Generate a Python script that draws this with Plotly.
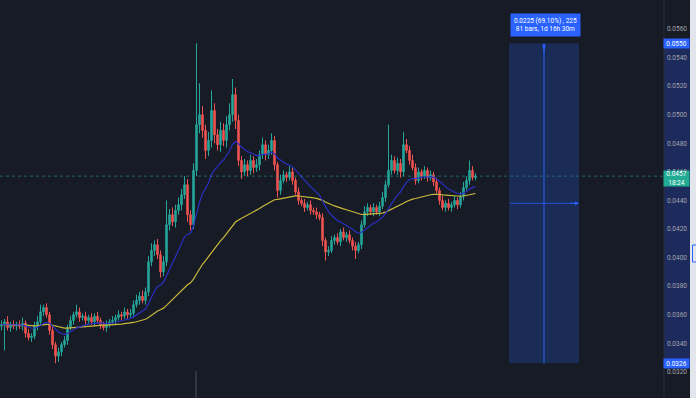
import plotly.graph_objects as go
import pandas as pd

# ---------------- data ----------------
first_open = 0.0352
close = [
    0.0353, 0.0355, 0.0351, 0.0353, 0.0352, 0.0353, 0.0352, 0.0354, 0.0347, 0.0344,
    0.0345, 0.0352, 0.0355, 0.0362, 0.0365, 0.0360, 0.0349, 0.0339, 0.0331, 0.0334,
    0.0339, 0.0342, 0.0351, 0.0356, 0.0360, 0.0362, 0.0358, 0.0359, 0.0356, 0.0358,
    0.0355, 0.0359, 0.0356, 0.0353, 0.0351, 0.0353, 0.0355, 0.0356, 0.0358, 0.0360,
    0.0359, 0.0362, 0.0360, 0.0361, 0.0367, 0.0370, 0.0373, 0.0370, 0.0376, 0.0397,
    0.0405, 0.0409, 0.0402, 0.0390, 0.0397, 0.0423, 0.0430, 0.0425, 0.0433, 0.0437,
    0.0444, 0.0451, 0.0430, 0.0423, 0.0461, 0.0493, 0.0500, 0.0489, 0.0475, 0.0482,
    0.0503, 0.0486, 0.0479, 0.0489, 0.0482, 0.0493, 0.0500, 0.0514, 0.0496, 0.0468,
    0.0460, 0.0465, 0.0461, 0.0468, 0.0463, 0.0465, 0.0472, 0.0479, 0.0472, 0.0475,
    0.0482, 0.0465, 0.0447, 0.0454, 0.0458, 0.0456, 0.0460, 0.0454, 0.0446, 0.0440,
    0.0438, 0.0435, 0.0437, 0.0433, 0.0432, 0.0430, 0.0428, 0.0412, 0.0404, 0.0405,
    0.0412, 0.0414, 0.0411, 0.0418, 0.0414, 0.0416, 0.0412, 0.0408, 0.0405, 0.0409,
    0.0423, 0.0432, 0.0435, 0.0432, 0.0435, 0.0432, 0.0436, 0.0442, 0.0451, 0.0461,
    0.0468, 0.0461, 0.0466, 0.0460, 0.0479, 0.0475, 0.0468, 0.0463, 0.0454, 0.0460,
    0.0457, 0.0461, 0.0456, 0.0458, 0.0453, 0.0447, 0.0440, 0.0435, 0.0438, 0.0435,
    0.0437, 0.0440, 0.0437, 0.0443, 0.0449, 0.0454, 0.0461, 0.0456, 0.0457,
]
up_wick = [
    0.0003, 0.0002, 0.0004, 0.0002, 0.0003, 0.0002, 0.0003, 0.0004, 0.0002, 0.0003,
    0.0002, 0.0003, 0.0004, 0.0005, 0.0002, 0.0003, 0.0002, 0.0003, 0.0002, 0.0003,
    0.0002, 0.0003, 0.0002, 0.0003, 0.0002, 0.0005, 0.0003, 0.0002, 0.0003, 0.0002,
    0.0003, 0.0002, 0.0003, 0.0002, 0.0002, 0.0003, 0.0002, 0.0003, 0.0002, 0.0003,
    0.0002, 0.0003, 0.0002, 0.0003, 0.0003, 0.0004, 0.0003, 0.0004, 0.0003, 0.0004,
    0.0005, 0.0003, 0.0004, 0.0003, 0.0004, 0.0017, 0.0004, 0.0005, 0.0004, 0.0005,
    0.0004, 0.0006, 0.0004, 0.0003, 0.0005, 0.0057, 0.0022, 0.0006, 0.0004, 0.0006,
    0.0014, 0.0005, 0.0004, 0.0006, 0.0005, 0.0006, 0.0008, 0.0011, 0.0005, 0.0004,
    0.0003, 0.0004, 0.0003, 0.0004, 0.0003, 0.0004, 0.0003, 0.0005, 0.0003, 0.0004,
    0.0005, 0.0003, 0.0002, 0.0004, 0.0003, 0.0002, 0.0004, 0.0003, 0.0002, 0.0003,
    0.0002, 0.0003, 0.0002, 0.0003, 0.0002, 0.0003, 0.0002, 0.0003, 0.0002, 0.0003,
    0.0003, 0.0002, 0.0003, 0.0002, 0.0003, 0.0002, 0.0003, 0.0002, 0.0003, 0.0002,
    0.0003, 0.0004, 0.0003, 0.0002, 0.0003, 0.0002, 0.0003, 0.0004, 0.0003, 0.0032,
    0.0004, 0.0003, 0.0004, 0.0003, 0.0009, 0.0004, 0.0003, 0.0004, 0.0003, 0.0003,
    0.0002, 0.0003, 0.0002, 0.0003, 0.0002, 0.0003, 0.0002, 0.0003, 0.0002, 0.0003,
    0.0002, 0.0003, 0.0002, 0.0003, 0.0004, 0.0003, 0.0007, 0.0003, 0.0002,
]
down_wick = [
    0.0003, 0.0018, 0.0002, 0.0003, 0.0002, 0.0003, 0.0002, 0.0003, 0.0003, 0.0002,
    0.0003, 0.0002, 0.0003, 0.0002, 0.0003, 0.0002, 0.0003, 0.0003, 0.0005, 0.0004,
    0.0003, 0.0002, 0.0003, 0.0002, 0.0003, 0.0002, 0.0003, 0.0002, 0.0003, 0.0002,
    0.0002, 0.0003, 0.0002, 0.0003, 0.0002, 0.0003, 0.0002, 0.0002, 0.0003, 0.0002,
    0.0003, 0.0002, 0.0003, 0.0002, 0.0003, 0.0002, 0.0003, 0.0002, 0.0003, 0.0003,
    0.0003, 0.0004, 0.0003, 0.0004, 0.0003, 0.0003, 0.0004, 0.0003, 0.0004, 0.0003,
    0.0004, 0.0003, 0.0005, 0.0004, 0.0003, 0.0004, 0.0006, 0.0005, 0.0006, 0.0004,
    0.0005, 0.0006, 0.0004, 0.0005, 0.0004, 0.0005, 0.0004, 0.0005, 0.0006, 0.0004,
    0.0005, 0.0003, 0.0004, 0.0003, 0.0004, 0.0003, 0.0004, 0.0003, 0.0004, 0.0003,
    0.0003, 0.0004, 0.0005, 0.0003, 0.0002, 0.0003, 0.0002, 0.0003, 0.0002, 0.0003,
    0.0002, 0.0003, 0.0002, 0.0003, 0.0002, 0.0003, 0.0002, 0.0004, 0.0006, 0.0003,
    0.0002, 0.0003, 0.0002, 0.0003, 0.0002, 0.0003, 0.0002, 0.0003, 0.0006, 0.0002,
    0.0003, 0.0002, 0.0003, 0.0002, 0.0003, 0.0002, 0.0003, 0.0002, 0.0003, 0.0002,
    0.0003, 0.0002, 0.0003, 0.0004, 0.0003, 0.0002, 0.0003, 0.0002, 0.0003, 0.0002,
    0.0003, 0.0002, 0.0003, 0.0002, 0.0003, 0.0002, 0.0003, 0.0002, 0.0003, 0.0002,
    0.0003, 0.0002, 0.0003, 0.0002, 0.0003, 0.0002, 0.0003, 0.0002, 0.0002,
]
tick_vals = [0.0300, 0.0320, 0.0340, 0.0360, 0.0380, 0.0400, 0.0420, 0.0440,
             0.0460, 0.0480, 0.0500, 0.0520, 0.0540, 0.0560, 0.0580]
tick_text = ["0.0300", "0.0320", "0.0340", "0.0360", "0.0380", "0.0400", "0.0420", "0.0440",
             "0.0460", "0.0480", "0.0500", "0.0520", "0.0540", "0.0560", "0.0580"]
measure_high = 0.0550
measure_low = 0.0326
last_price = 0.0457
measure_text = "0.0225 (69.10%) , 225<br>81 bars, 1d 16h 30m"
countdown = "18:24"

# ---------------- derived series ----------------
opens = [first_open] + close[:-1]
highs = [max(o, c) + u for o, c, u in zip(opens, close, up_wick)]
lows = [min(o, c) - d for o, c, d in zip(opens, close, down_wick)]
idx = list(range(len(close)))
s = pd.Series(close)
ma_fast = s.ewm(span=16, adjust=False).mean()
ma_slow = s.ewm(span=60, adjust=False).mean()

W, H = 696, 398
PW = 664  # plot width in px
BG = "#171b26"
Y0, Y1 = 0.03017, 0.05803


def px(xp):
    return xp / PW


def yv(py):
    # pixel row -> price (only used for placing labels)
    return Y1 - py * (Y1 - Y0) / H


fig = go.Figure()
fig.add_trace(go.Candlestick(
    x=idx, open=opens, high=highs, low=lows, close=close,
    increasing=dict(line=dict(color="#26a69a", width=1), fillcolor="#26a69a"),
    decreasing=dict(line=dict(color="#ef5350", width=1), fillcolor="#ef5350"),
    whiskerwidth=0, showlegend=False, hoverinfo="skip",
))
fig.add_trace(go.Scatter(x=idx, y=ma_slow, mode="lines",
                         line=dict(color="#c9b93c", width=1.2), showlegend=False, hoverinfo="skip"))
fig.add_trace(go.Scatter(x=idx, y=ma_fast, mode="lines",
                         line=dict(color="#2b2fc4", width=1.2), showlegend=False, hoverinfo="skip"))

shapes = [
    # axis highlight band
    dict(type="rect", xref="paper", yref="y", x0=1.0, x1=px(690), y0=measure_low, y1=measure_high,
         fillcolor="#1d2b5c", line=dict(width=0), layer="below"),
    # divider
    dict(type="line", xref="paper", yref="paper", x0=1.0, x1=1.0, y0=0, y1=1,
         line=dict(color="#2a2e39", width=1)),
    # right light strip
    dict(type="rect", xref="paper", yref="paper", x0=px(690), x1=px(700), y0=0, y1=1,
         fillcolor="#e3e5ec", line=dict(width=0)),
    dict(type="rect", xref="paper", yref="y", x0=px(692.5), x1=px(702), y0=yv(262), y1=yv(245),
         fillcolor="rgba(0,0,0,0)", line=dict(color="#2962ff", width=1)),
    # volume-ish bar
    dict(type="line", xref="paper", yref="paper", x0=px(196), x1=px(196), y0=0, y1=27 / H,
         line=dict(color="#3b3f4a", width=1.5)),
    # current price line
    dict(type="line", xref="paper", yref="y", x0=0, x1=1, y0=last_price, y1=last_price,
         line=dict(color="rgba(38,166,154,0.55)", width=1, dash="dot")),
    # measure box
    dict(type="rect", xref="paper", yref="y", x0=px(509), x1=px(579), y0=measure_low, y1=measure_high,
         fillcolor="rgba(41,98,255,0.22)", line=dict(width=0)),
    dict(type="line", xref="paper", yref="y", x0=px(544), x1=px(544), y0=measure_low, y1=measure_high,
         line=dict(color="#2962ff", width=1)),
    dict(type="line", xref="paper", yref="y", x0=px(510), x1=px(578),
         y0=(measure_low + measure_high) / 2, y1=(measure_low + measure_high) / 2,
         line=dict(color="rgba(41,98,255,0.75)", width=1)),
]

lab_font = dict(color="white", size=6.5, family="Roboto")
annotations = [
    dict(xref="paper", yref="y", x=px(544), y=measure_high, ax=0, ay=12, showarrow=True,
         arrowhead=2, arrowsize=0.8, arrowwidth=1, arrowcolor="#2962ff", text=""),
    dict(xref="paper", yref="y", x=px(579), y=(measure_low + measure_high) / 2, ax=-10, ay=0,
         showarrow=True, arrowhead=2, arrowsize=0.8, arrowwidth=1, arrowcolor="#2962ff", text=""),
    dict(xref="paper", yref="y", x=px(545), y=yv(25), text=measure_text, showarrow=False,
         xanchor="center", yanchor="middle",
         bgcolor="#2962ff", font=dict(color="white", size=6.5, family="Roboto"),
         borderpad=3, align="center"),
    dict(xref="paper", yref="y", x=px(676.5), y=measure_high, text="0.0550", showarrow=False,
         xanchor="center", yanchor="middle",
         bgcolor="#2962ff", font=lab_font, width=25, height=9, borderpad=0),
    dict(xref="paper", yref="y", x=px(676.5), y=measure_low, text="0.0326", showarrow=False,
         xanchor="center", yanchor="middle",
         bgcolor="#2962ff", font=lab_font, width=25, height=9, borderpad=0),
    dict(xref="paper", yref="y", x=px(676.5), y=yv(178.5), text="0.0457<br>" + countdown,
         xanchor="center", yanchor="middle",
         showarrow=False, bgcolor="#22ab94", font=lab_font,
         width=25, height=15, borderpad=0),
]

fig.update_layout(
    width=W, height=H,
    margin=dict(l=0, r=W - PW, t=0, b=0),
    paper_bgcolor=BG, plot_bgcolor=BG,
    shapes=shapes, annotations=annotations,
    xaxis=dict(range=[-0.5, PW / 3 - 0.5], visible=False, rangeslider=dict(visible=False),
               fixedrange=True),
    yaxis=dict(range=[Y0, Y1], side="right", tickvals=tick_vals, ticktext=tick_text,
               showgrid=False, zeroline=False, showline=False, ticks="",
               tickfont=dict(color="#a3a6af", size=6.5, family="Roboto"), ticklabelstandoff=2),
)

fig.write_html("out.html")
